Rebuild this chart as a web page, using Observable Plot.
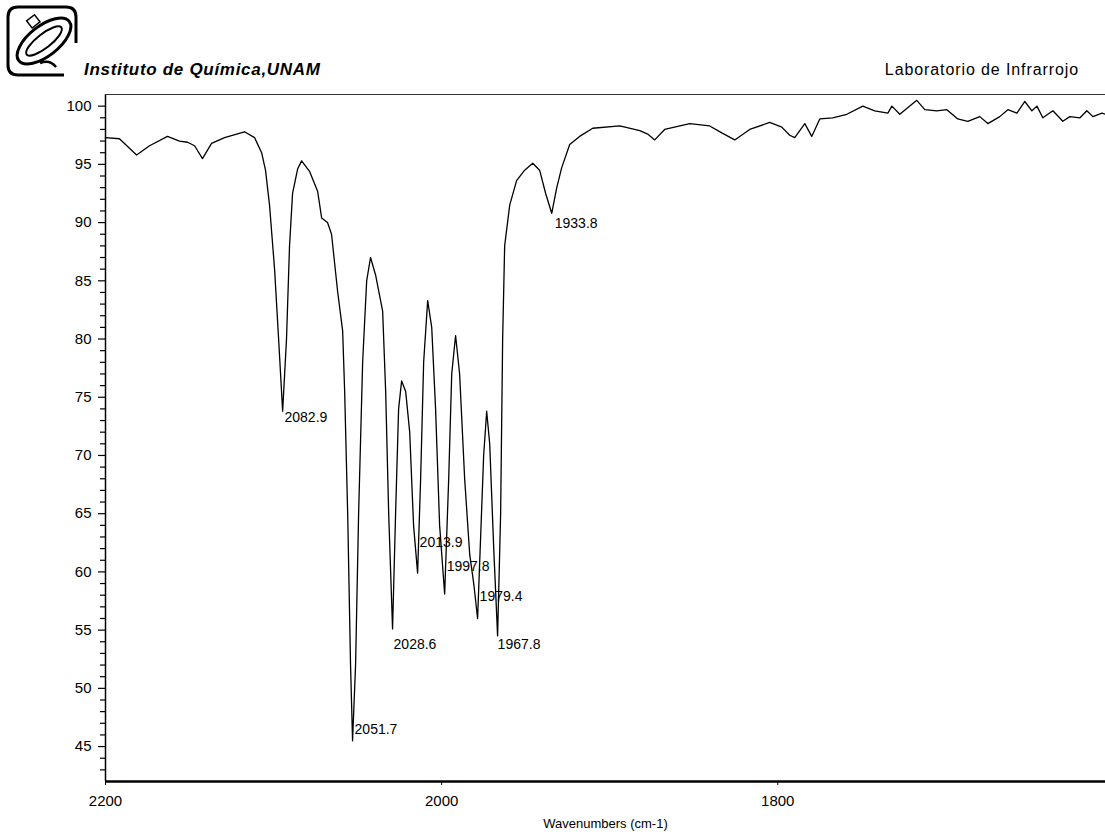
<!DOCTYPE html>
<html>
<head>
<meta charset="utf-8">
<script src="https://cdn.jsdelivr.net/npm/d3@7"></script>
<script src="https://cdn.jsdelivr.net/npm/@observablehq/plot@0.6"></script>
<style>
  html, body { margin: 0; padding: 0; background: #fff; }
  #page { position: relative; width: 1105px; height: 832px; overflow: hidden; font-family: "Liberation Sans", Arial, sans-serif; color: #000; }
  #logo { position: absolute; left: 4px; top: 3px; }
  #inst { position: absolute; left: 84px; top: 60px; font-size: 17px; font-weight: bold; font-style: italic; letter-spacing: 0.7px; }
  #lab { position: absolute; right: 26px; top: 61px; font-size: 16px; letter-spacing: 0.9px; }
  #chart { position: absolute; left: 0; top: 80px; }
</style>
</head>
<body>
<div id="page">
  <svg id="logo" width="82" height="76" viewBox="0 0 82 76">
    <path d="M14 4 H62 Q72 4 72 14 V40 M60 72 H14 Q4 72 4 62 V14 Q4 4 14 4" fill="none" stroke="#000" stroke-width="3"/>
    <ellipse cx="40" cy="38" rx="32" ry="15" transform="rotate(-38 40 38)" fill="none" stroke="#000" stroke-width="3"/>
    <ellipse cx="40" cy="38" rx="22" ry="7" transform="rotate(-38 40 38)" fill="none" stroke="#000" stroke-width="2"/>
    <rect x="24" y="14" width="10" height="9" transform="rotate(-38 29 18)" fill="#fff" stroke="#000" stroke-width="1.5"/>
    <path d="M36 60 Q46 56 52 64" fill="none" stroke="#000" stroke-width="2.5"/>
  </svg>
  <div id="inst">Instituto de Química,UNAM</div>
  <div id="lab">Laboratorio de Infrarrojo</div>
  <div id="chart"></div>
</div>
<script>
// Spectrum: wavenumber (cm-1) and %T
const wavenumber = [2200, 2191.7, 2181.5, 2173.8, 2163.1, 2156.0, 2151.2, 2147.0, 2142.3, 2136.9, 2129.2, 2117.3, 2111.3, 2107.1, 2104.8, 2102.4, 2099.4, 2097.0, 2094.6, 2092.3, 2090.5, 2088.7, 2085.7, 2083.3, 2078.6, 2073.8, 2071.4, 2067.9, 2065.5, 2061.9, 2058.9, 2057.7, 2055.9, 2054.2, 2053.0, 2051.2, 2049.4, 2047.0, 2044.6, 2042.3, 2039.3, 2035.1, 2033.3, 2031.5, 2029.2, 2027.4, 2025.6, 2023.8, 2021.4, 2019.0, 2016.7, 2014.3, 2012.5, 2010.7, 2008.3, 2005.9, 2003.6, 2001.2, 1998.2, 1995.8, 1994.0, 1991.7, 1989.3, 1986.3, 1983.3, 1980.9, 1978.6, 1976.8, 1975.0, 1973.2, 1971.4, 1969.0, 1966.7, 1964.9, 1963.7, 1962.5, 1959.5, 1955.4, 1950.6, 1945.8, 1941.7, 1938.1, 1934.5, 1931.5, 1928.6, 1923.8, 1917.9, 1910.1, 1894.0, 1882.1, 1877.4, 1873.2, 1867.3, 1852.4, 1840.5, 1833.3, 1825.6, 1816.7, 1804.8, 1797.6, 1792.9, 1789.9, 1783.9, 1779.8, 1775.0, 1767.3, 1758.9, 1749.4, 1742.3, 1734.5, 1732.1, 1727.4, 1717.3, 1712.5, 1705.4, 1699.4, 1692.9, 1686.9, 1679.8, 1675.0, 1667.9, 1663.1, 1657.7, 1653.0, 1648.8, 1645.8, 1642.3, 1636.3, 1630.4, 1626.2, 1620.2, 1616.1, 1612.5, 1607.1, 1605];
const transmittance = [97.3, 97.2, 95.8, 96.6, 97.4, 97.0, 96.9, 96.6, 95.5, 96.8, 97.3, 97.8, 97.3, 96.0, 94.5, 91.5, 86, 80, 73.8, 80, 88, 92.5, 94.6, 95.3, 94.4, 92.7, 90.4, 90.0, 89.0, 84.1, 80.7, 75.5, 65, 52, 45.5, 52, 65, 78, 85, 87.0, 85.5, 82.4, 75.5, 65, 55.1, 65, 74, 76.4, 75.5, 72, 64, 59.9, 68, 78, 83.3, 81, 74, 64, 58.1, 68, 77, 80.3, 77, 68, 61.5, 59, 56.0, 63, 70, 73.8, 71, 62, 54.5, 65, 80, 88, 91.5, 93.6, 94.5, 95.1, 94.5, 92.5, 90.8, 93, 94.7, 96.7, 97.4, 98.1, 98.3, 97.9, 97.6, 97.1, 98.0, 98.5, 98.3, 97.7, 97.1, 98.0, 98.6, 98.2, 97.5, 97.3, 98.5, 97.4, 98.9, 99.0, 99.3, 100.0, 99.6, 99.4, 100.0, 99.3, 100.5, 99.7, 99.6, 99.7, 98.9, 98.7, 99.1, 98.5, 99.1, 99.7, 99.4, 100.4, 99.6, 100.0, 99.0, 99.6, 98.7, 99.1, 99.0, 99.6, 99.1, 99.4, 99.3];

// Peak annotations (text, label anchor position in data units)
const peakText = ["2082.9", "2051.7", "2028.6", "2013.9", "1997.8", "1979.4", "1967.8", "1933.8"];
const peakLabelX = [2093.5, 2051.8, 2028.6, 2013.1, 1997.0, 1977.4, 1966.7, 1932.7];
const peakLabelY = [73.3, 46.5, 53.8, 62.5, 60.5, 57.9, 53.8, 89.9];

// Axes
const xTicks = [2200, 2000, 1800];
const yTicks = [45, 50, 55, 60, 65, 70, 75, 80, 85, 90, 95, 100];
const yMinorTicks = d3.range(43, 101).filter(v => v % 5 !== 0);
const xDomain = [2200, 1605];
const yDomain = [42, 101];
const xLabel = "Wavenumbers (cm-1)";

const spectrum = wavenumber.map((w, i) => ({w, t: transmittance[i]}));
const peaks = peakText.map((s, i) => ({s, x: peakLabelX[i], y: peakLabelY[i]}));

const chart = Plot.plot({
  width: 1105,
  height: 752,
  marginLeft: 105,
  marginRight: 0,
  marginTop: 14,
  marginBottom: 51,
  style: {fontFamily: "'Liberation Sans', Arial, sans-serif", fontSize: "15px", background: "#fff", color: "#000"},
  x: {domain: xDomain},
  y: {domain: yDomain},
  marks: [
    Plot.axisY(yMinorTicks, {tickSize: 5, tickFormat: () => "", strokeWidth: 1.2}),
    Plot.axisY(yTicks, {tickSize: 7, tickPadding: 7, label: null, strokeWidth: 1.2}),
    Plot.axisX(xTicks, {tickSize: 4, tickPadding: 10, label: null, tickFormat: d => String(d)}),
    Plot.ruleX([xDomain[0]], {strokeWidth: 1.5}),
    Plot.ruleY([yDomain[1]], {strokeWidth: 1.2, stroke: "#333"}),
    Plot.line(spectrum, {x: "w", y: "t", stroke: "#000", strokeWidth: 1.3}),
    Plot.ruleY([yDomain[0]], {strokeWidth: 2.5}),
    Plot.text(peaks, {x: "x", y: "y", text: "s", textAnchor: "start", fontSize: 14, fill: "#000", style: "letter-spacing:0.6px"}),
    Plot.text([xLabel], {frameAnchor: "bottom", dy: 46, fontSize: 13})
  ]
});
document.getElementById("chart").appendChild(chart);
</script>
</body>
</html>
